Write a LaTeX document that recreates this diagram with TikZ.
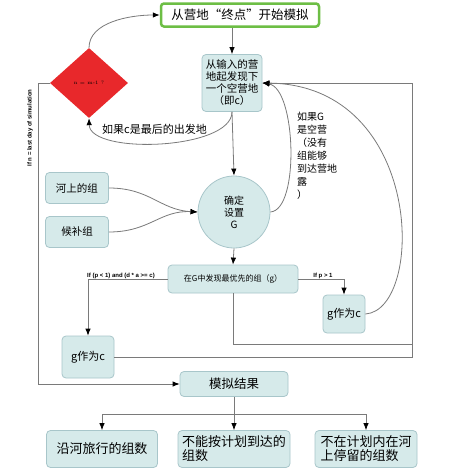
\documentclass[tikz,border=0pt]{standalone}
\usepackage{fontspec}
\newfontfamily\cjk{Noto Sans CJK SC}
\setsansfont{Liberation Sans}
\usetikzlibrary{shapes.geometric,arrows.meta}
\definecolor{boxfill}{HTML}{D6EAEA}
\definecolor{boxline}{HTML}{A8C6CA}
\definecolor{lgreen}{HTML}{6DBE45}
\definecolor{dred}{HTML}{E8282B}
\definecolor{lcol}{HTML}{7A7A7A}
\begin{document}
\begin{tikzpicture}[x=1pt,y=-1pt,
  box/.style={draw=boxline, fill=boxfill, rounded corners=4pt, line width=0.8pt,
    font=\cjk\fontsize{10.5}{12}\selectfont, align=center, inner sep=2pt},
  arr/.style={draw=lcol, line width=0.8pt, -{Latex[length=7pt,width=5.5pt,color=black]}},
  ln/.style={draw=lcol, line width=0.8pt},
  lab/.style={font=\sffamily\bfseries\fontsize{6}{7}\selectfont, inner sep=1pt}]
\fill[white] (0,0) rectangle (448,472);
\useasboundingbox (0,0) rectangle (448,472);

% nodes
\node[draw=lgreen, line width=2.5pt, fill=white, rounded corners=3pt,
  minimum width=158pt, minimum height=23pt,
  font=\cjk\fontsize{12.5}{13}\selectfont, inner sep=1pt] (start) at (240,15) {从营地“终点”开始模拟};
\node[box, minimum width=60pt, minimum height=57pt] (find) at (232,83)
  {从输入的营\\地起发现下\\一个空营地\\（即c）};
\node[diamond, fill=dred, minimum width=78pt, minimum height=70pt, inner sep=0pt,
  font=\fontsize{5}{6}\selectfont] (dia) at (89,83) {n = m-1 ?};
\node[circle, draw=boxline, fill=boxfill, line width=0.8pt, minimum size=72pt, inner sep=0pt,
  font=\cjk\fontsize{10}{12}\selectfont, align=center] (circ) at (234,212) {确定\\设置\\G};
\node[box, minimum width=63pt, minimum height=31pt] (river) at (77,188) {河上的组};
\node[box, minimum width=63pt, minimum height=31pt] (cand) at (77,232) {候补组};
\node[box, minimum width=130pt, minimum height=28pt, font=\cjk\fontsize{8}{9}\selectfont] (mid) at (233,279) {在G中发现最优先的组（g）};
\node[box, minimum width=52pt, minimum height=42pt, font=\cjk\fontsize{11}{12}\selectfont] (lg) at (88,357) {g作为c};
\node[box, minimum width=42pt, minimum height=38pt, font=\cjk\fontsize{11}{12}\selectfont] (rg) at (344,314) {g作为c};
\node[box, minimum width=108pt, minimum height=25pt, font=\cjk\fontsize{12.5}{13}\selectfont] (res) at (234,384) {模拟结果};
\node[box, minimum width=111pt, minimum height=37pt, font=\cjk\fontsize{13}{14}\selectfont] (b1) at (102,449) {沿河旅行的组数};
\node[box, minimum width=112pt, minimum height=37pt, font=\cjk\fontsize{13}{14}\selectfont, align=left] (b2) at (234,449) {不能按计划到达的\\组数};
\node[box, minimum width=102pt, minimum height=37pt, font=\cjk\fontsize{13}{14}\selectfont, align=left] (b3) at (366,449) {不在计划内在河\\上停留的组数};

% labels
\node[font=\cjk\fontsize{11}{12}\selectfont, anchor=west, inner sep=0pt] (lbl1) at (102,129) {如果c是最后的出发地};
\node[font=\cjk\fontsize{10}{13}\selectfont, align=left, anchor=north west, inner sep=0pt] (lbl2) at (297,112)
  {如果G\\是空营\\（没有\\组能够\\到达营地\\露\\）};
\node[lab, rotate=90] (lbl0) at (30,128) {If n = last day of simulation};
\node[lab, anchor=south] (lbl3) at (121,280) {If (p < 1) and (d * a >= c)};
\node[lab, anchor=south] (lbl4) at (323,280) {If p > 1};

% coordinates
\coordinate (l1) at (38,83);
\coordinate (r1) at (412,344);
\coordinate (r2) at (412,83);
\coordinate (sp) at (234,414);

% connectors
\draw[arr] (dia.north) .. controls (89,22) and (130,15) .. (start.west);
\draw[arr] (find.north |- start.south) -- (find.north);
\draw[arr] (find.south) -- (circ.north);
\draw[arr] (find.south) .. controls (232,150) and (90,155) .. (dia.south);
\draw[arr] (circ.east) .. controls (300,210) and (296,88) .. (find.east);
\draw[arr] (rg.east) .. controls (425,310) and (425,85) .. (find.east);
\draw[arr] (mid.south) |- (r1) -- (r2) -- (find.east);
\draw[ln] (lg.east) -| (r1);
\draw[arr] (circ.south) -- (mid.north);
\draw[arr] (mid.west) -| (lg.north);
\draw[arr] (mid.east) -| (rg.north);
\draw[arr] (river.east) .. controls (150,188) and (160,210) .. (circ.west);
\draw[arr] (cand.east) .. controls (150,232) and (160,210) .. (circ.west);
\draw[arr] (dia.west) -- (l1) |- (res.west);
\draw[arr] (res.south) -- (b2.north);
\draw[arr] (sp) -| (b1.north);
\draw[arr] (sp) -| (b3.north);
\end{tikzpicture}
\end{document}
